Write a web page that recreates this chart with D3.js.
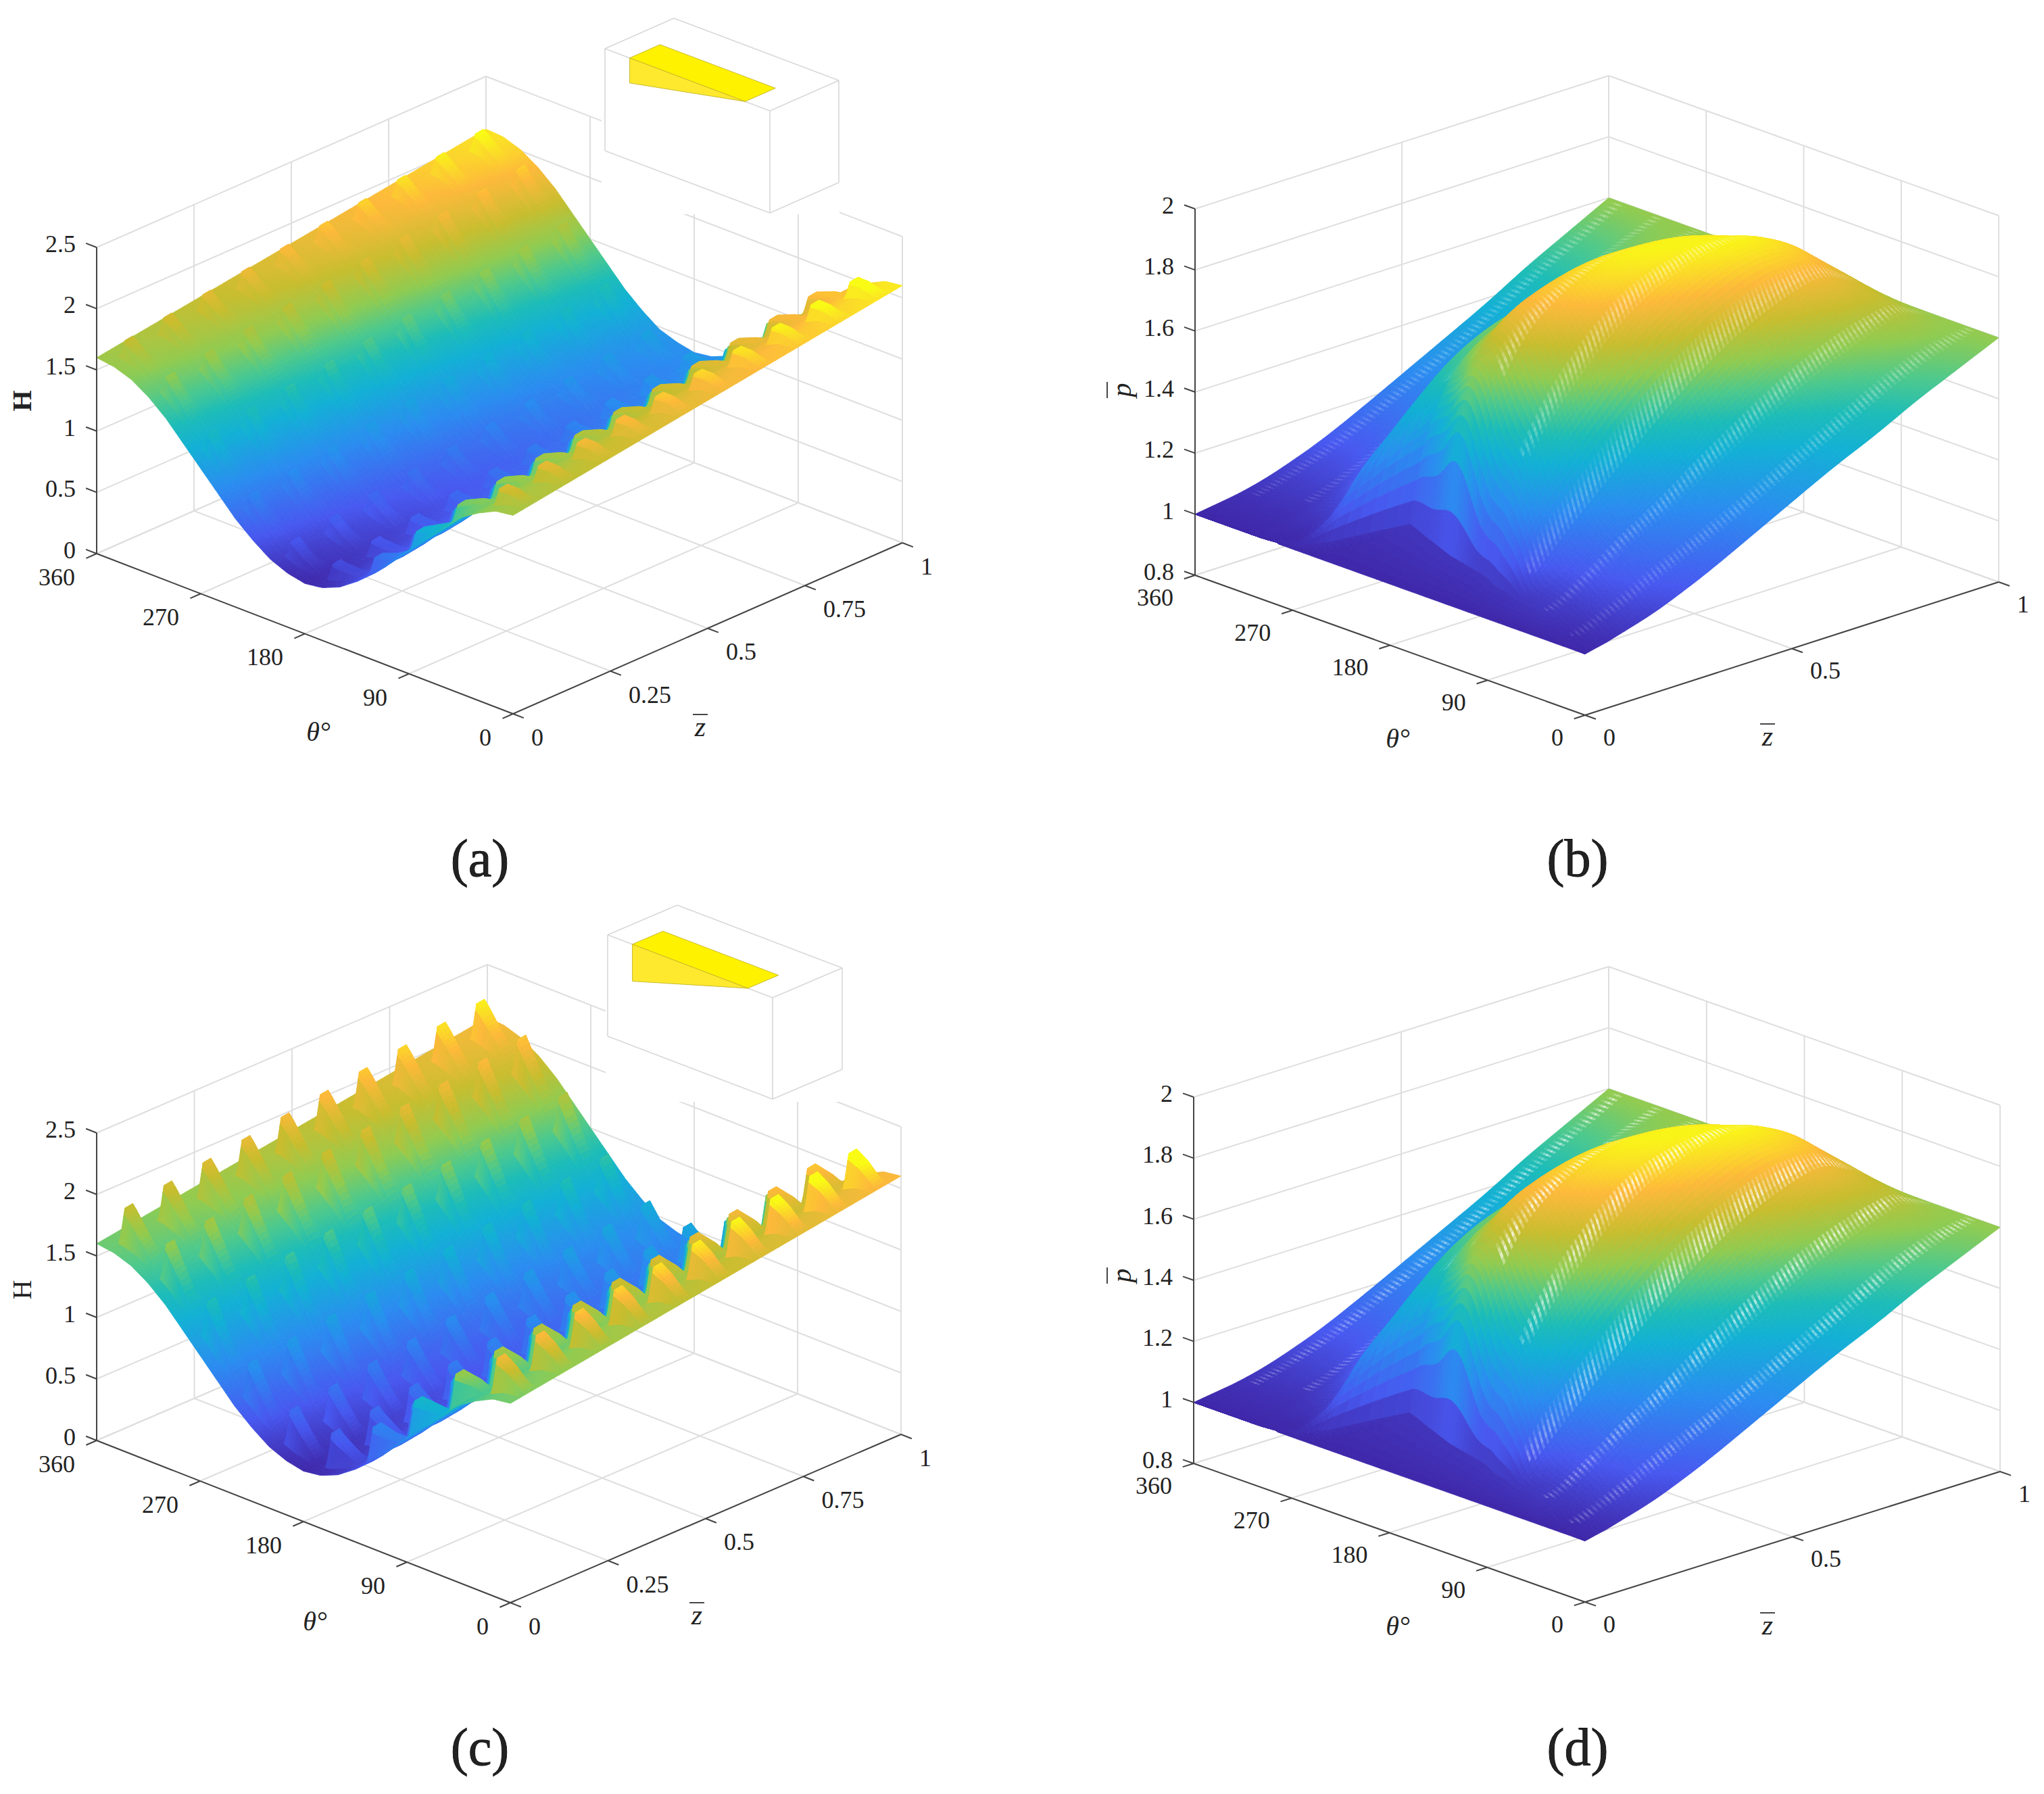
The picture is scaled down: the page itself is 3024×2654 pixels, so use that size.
<!DOCTYPE html>
<html>
<head>
<meta charset="utf-8">
<script src="https://d3js.org/d3.v7.min.js"></script>
<style>
  body { margin: 0; background: #fff; }
  text { font-family: "Liberation Serif", serif; fill: #222; }
</style>
</head>
<body>
<svg id="chart" width="3024" height="2654"></svg>
<script>
// values.
// The H surface is two read edge profiles (z=0, z=1) plus one read peak height per wedge,
// the p surface is one read row per 30 degrees. The mesh below only resamples these
// between the read values so the surface can be drawn smooth.
const thetaTicks = [0, 90, 180, 270, 360];
const zTicksFine = [0, 0.25, 0.5, 0.75, 1];
const zTicksCoarse = [0, 0.5, 1];
const hTicks = [0, 0.5, 1, 1.5, 2, 2.5];
const pTicks = [0.8, 1, 1.2, 1.4, 1.6, 1.8, 2];

// film thickness along the two z edges
const filmTheta = [0, 15, 30, 45, 60, 75, 90, 105, 120, 135, 150, 165, 180, 195, 210, 225, 240, 255, 270, 285, 300, 315, 330, 345, 360];
const filmZ0 = [1.62, 1.6, 1.53, 1.44, 1.3, 1.16, 1.01, 0.86, 0.71, 0.59, 0.49, 0.43, 0.41, 0.44, 0.5, 0.6, 0.72, 0.87, 1.02, 1.17, 1.32, 1.44, 1.53, 1.58, 1.6];
const filmZ1 = [2.1, 2.08, 2.01, 1.92, 1.79, 1.65, 1.5, 1.35, 1.2, 1.08, 0.98, 0.92, 0.9, 0.93, 0.98, 1.08, 1.2, 1.35, 1.5, 1.65, 1.8, 1.92, 2.01, 2.06, 2.07];

// wedge lattice: where the crest of each wedge sits, and how tall it is per theta column
const wedgeTheta = [25, 61, 97, 133, 169, 205, 241, 277, 313, 349];
const wedgeZ = [0.05, 0.15, 0.25, 0.35, 0.45, 0.55, 0.65, 0.75, 0.85, 0.95];
const wedgeHeightA = [0.12, 0.12, 0.12, 0.11, 0.11, 0.11, 0.11, 0.12, 0.12, 0.12];
const wedgeHeightC = [0.27, 0.27, 0.27, 0.26, 0.26, 0.26, 0.26, 0.27, 0.27, 0.27];
// wedges near theta=0 read brighter than their height alone gives
const wedgeGlow = [1.8, 1.5, 1.2, 1, 1, 1, 1, 1, 1, 1];

// pressure: edge of the flat p=1 area on the z=0 side
const flatTheta = [0, 15, 30, 45, 60, 75, 90, 105, 120, 135, 150, 165, 180, 195, 210, 225, 240, 255, 270, 285, 300, 315, 330, 345, 360];
const flatEdge = [0, 0.015, 0.028, 0.045, 0.055, 0.065, 0.07, 0.085, 0.095, 0.115, 0.125, 0.135, 0.145, 0.16, 0.175, 0.19, 0.205, 0.05, 0.01, 0, 0, 0, 0, 0, 0];
// rows of p from that edge (u=0) to z=1 (u=1), one row per 30 degrees
const pressureU = [0, 0.01, 0.025, 0.05, 0.075, 0.1, 0.15, 0.2, 0.3, 0.4, 0.5, 0.6, 0.7, 0.8, 0.9, 1];
const p000 = [1, 1.003, 1.008, 1.015, 1.025, 1.035, 1.055, 1.08, 1.14, 1.21, 1.28, 1.35, 1.41, 1.48, 1.54, 1.6];
const p030 = [1.01, 1.012, 1.02, 1.03, 1.045, 1.06, 1.09, 1.13, 1.19, 1.25, 1.32, 1.39, 1.46, 1.53, 1.58, 1.6];
const p060 = [1.03, 1.035, 1.04, 1.05, 1.07, 1.09, 1.13, 1.18, 1.25, 1.34, 1.42, 1.5, 1.57, 1.62, 1.66, 1.6];
const p090 = [1.03, 1.04, 1.05, 1.08, 1.11, 1.14, 1.2, 1.26, 1.37, 1.48, 1.58, 1.66, 1.72, 1.76, 1.7, 1.6];
const p120 = [1.03, 1.07, 1.14, 1.24, 1.3, 1.35, 1.43, 1.5, 1.63, 1.74, 1.81, 1.86, 1.88, 1.83, 1.72, 1.6];
const p150 = [1.03, 1.08, 1.18, 1.3, 1.39, 1.46, 1.58, 1.67, 1.79, 1.87, 1.89, 1.89, 1.86, 1.8, 1.71, 1.6];
const p180 = [1.03, 1.15, 1.38, 1.5, 1.59, 1.63, 1.71, 1.77, 1.82, 1.85, 1.85, 1.84, 1.81, 1.76, 1.69, 1.6];
const p210 = [1.03, 1.12, 1.27, 1.41, 1.5, 1.56, 1.62, 1.66, 1.71, 1.74, 1.75, 1.75, 1.74, 1.71, 1.66, 1.6];
const p240 = [1.03, 1.1, 1.19, 1.31, 1.38, 1.43, 1.49, 1.53, 1.59, 1.63, 1.65, 1.66, 1.66, 1.65, 1.62, 1.6];
const p270 = [1.01, 1.015, 1.02, 1.04, 1.06, 1.08, 1.13, 1.21, 1.37, 1.47, 1.52, 1.55, 1.57, 1.59, 1.6, 1.6];
const p300 = [1, 1.003, 1.005, 1.01, 1.018, 1.025, 1.045, 1.075, 1.16, 1.25, 1.33, 1.4, 1.46, 1.52, 1.57, 1.6];
const p330 = [1, 1.002, 1.005, 1.01, 1.015, 1.02, 1.035, 1.055, 1.1, 1.165, 1.235, 1.31, 1.39, 1.46, 1.53, 1.6];
const p360 = [1, 1.002, 1.005, 1.01, 1.015, 1.02, 1.035, 1.055, 1.105, 1.17, 1.24, 1.31, 1.38, 1.46, 1.53, 1.6];
const pressureRows = [p000, p030, p060, p090, p120, p150, p180, p210, p240, p270, p300, p330, p360];

// where the white mesh gaps start on each theta line
const gapStartZ = [0.04, 0.07, 0.12, 0.2, 0.24, 0.27, 0.3, 0.22, 0.15, 0.12];

// parula, tuned to the picture
const parulaStops = [0, 0.12, 0.28, 0.42, 0.5, 0.58, 0.66, 0.76, 0.87, 1];
const parulaColors = ["#3e26a8", "#4758f0", "#2a8cf0", "#12b0d5", "#1cbcb8", "#4fc98a", "#90cb50", "#c8bd2e", "#fdb93a", "#f9fb15"];
const parula = d3.scaleLinear().domain(parulaStops).range(parulaColors).clamp(true);

const svg = d3.select("#chart");

function makeProjection(p) {
  const tx = d3.scaleLinear().domain([0, 360]).range([0, p.thetaVec[0]]);
  const ty = d3.scaleLinear().domain([0, 360]).range([0, p.thetaVec[1]]);
  const zx = d3.scaleLinear().domain([0, 1]).range([0, p.zVec[0]]);
  const zy = d3.scaleLinear().domain([0, 1]).range([0, p.zVec[1]]);
  const vy = d3.scaleLinear().domain(p.vDomain).range([0, -p.height]);
  return (t, z, v) => [p.front[0] + tx(t) + zx(z), p.front[1] + ty(t) + zy(z) + vy(v)];
}

function drawFrame(g, p, proj) {
  const [v0, v1] = p.vDomain;
  const grid = g.append("g").attr("stroke", "#dedede").attr("stroke-width", 2).attr("fill", "none");
  const seg = (a, b) => grid.append("line").attr("x1", a[0]).attr("y1", a[1]).attr("x2", b[0]).attr("y2", b[1]);
  p.vTicks.forEach(v => {
    seg(proj(360, 0, v), proj(360, 1, v));
    seg(proj(360, 1, v), proj(0, 1, v));
  });
  p.zTicks.forEach(z => {
    seg(proj(360, z, v0), proj(360, z, v1));
    seg(proj(0, z, v0), proj(360, z, v0));
  });
  thetaTicks.forEach(t => {
    seg(proj(t, 1, v0), proj(t, 1, v1));
    seg(proj(t, 0, v0), proj(t, 1, v0));
  });
  if (p.mask) {
    g.append("rect").attr("x", p.mask[0]).attr("y", p.mask[1]).attr("width", p.mask[2]).attr("height", p.mask[3]).attr("fill", "#fff");
  }
}

function barLabel(g, pos, text, vertical) {
  // italic letter with a thin bar over it, the bar sits on the left when the label is rotated
  const t = g.append("text").attr("x", pos[0]).attr("y", pos[1]).attr("text-anchor", "middle").attr("dy", "0.33em")
    .attr("font-size", 42).attr("font-style", "italic").text(text);
  if (vertical) t.attr("transform", `rotate(-90 ${pos[0]} ${pos[1]})`);
  const bar = vertical
    ? [pos[0] - 21, pos[1] - 12, pos[0] - 21, pos[1] + 12]
    : [pos[0] - 11, pos[1] - 18, pos[0] + 11, pos[1] - 18];
  g.append("line").attr("x1", bar[0]).attr("y1", bar[1]).attr("x2", bar[2]).attr("y2", bar[3]).attr("stroke", "#333").attr("stroke-width", 1.8);
}

function drawAxes(g, p, proj) {
  const [v0, v1] = p.vDomain;
  const ax = g.append("g").attr("stroke", "#444").attr("stroke-width", 2).attr("fill", "none");
  const seg = (a, b) => ax.append("line").attr("x1", a[0]).attr("y1", a[1]).attr("x2", b[0]).attr("y2", b[1]);
  seg(proj(360, 0, v0), proj(360, 0, v1));
  seg(proj(360, 0, v0), proj(0, 0, v0));
  seg(proj(0, 0, v0), proj(0, 1, v0));
  const lab = g.append("g").attr("font-size", 36);
  const fmt = d => String(d);
  const tickTheta = 360 * 17 / Math.hypot(p.thetaVec[0], p.thetaVec[1]);
  const tickZ = 17 / Math.hypot(p.zVec[0], p.zVec[1]);
  p.vTicks.forEach(v => {
    const a = proj(360, 0, v);
    seg(a, proj(360 + tickTheta, 0, v));
    lab.append("text").attr("x", a[0] - 31).attr("y", a[1] - 5).attr("dy", "0.33em").attr("text-anchor", "end").text(fmt(v));
  });
  thetaTicks.forEach(t => {
    const a = proj(t, 0, v0);
    seg(a, proj(t, -tickZ, v0));
    lab.append("text").attr("x", a[0] - 32).attr("y", a[1] + p.labelDy).attr("dy", "0.33em").attr("text-anchor", "end").text(fmt(t));
  });
  p.zTicks.forEach(z => {
    const a = proj(0, z, v0);
    seg(a, proj(-tickTheta, z, v0));
    lab.append("text").attr("x", a[0] + 27).attr("y", a[1] + p.labelDy).attr("dy", "0.33em").attr("text-anchor", "start").text(fmt(z));
  });
  if (p.isFilm) {
    g.append("text").attr("x", p.vLabel[0]).attr("y", p.vLabel[1]).attr("transform", `rotate(-90 ${p.vLabel[0]} ${p.vLabel[1]})`)
      .attr("text-anchor", "middle").attr("dy", "0.33em").attr("font-size", 40).attr("font-weight", p.vWeight).text("H");
  } else {
    barLabel(g, p.vLabel, "p", true);
  }
  g.append("text").attr("x", p.thetaLabel[0]).attr("y", p.thetaLabel[1]).attr("text-anchor", "middle").attr("dy", "0.33em")
    .attr("font-size", 40).attr("font-style", "italic").text("θ°");
  barLabel(g, p.zLabel, "z", false);
  g.append("text").attr("x", p.tag[0]).attr("y", p.tag[1]).attr("text-anchor", "middle").attr("font-size", 78)
    .attr("fill", "#111").attr("stroke", "#111").attr("stroke-width", 0.9).text(p.tagText);
}

// --- surface heights ---
const filmLow = d3.scaleLinear().domain(filmTheta).range(filmZ0);
const filmHigh = d3.scaleLinear().domain(filmTheta).range(filmZ1);
const wedgeLength = 25, wallWidth = 2, wedgeTop = 0.01, wedgeBase = 0.024;

function filmBase(t, z) {
  return filmLow(t) + (filmHigh(t) - filmLow(t)) * z;
}

function wedgeAt(t, z, heights, weights) {
  let h = 0;
  const k = d3.bisectCenter(wedgeTheta, t);
  for (const i of [k - 1, k, k + 1]) {
    if (i < 0 || i >= wedgeTheta.length) continue;
    const d = wedgeTheta[i] - t;
    if (d < -wallWidth || d > wedgeLength) continue;
    const ramp = d >= 0 ? 1 - d / wedgeLength : 1 + d / wallWidth;
    const dz = Math.abs(z - wedgeZ[d3.bisectCenter(wedgeZ, z)]);
    const across = Math.max(0, Math.min(1, (wedgeBase - dz) / (wedgeBase - wedgeTop)));
    h += heights[i] * (weights ? weights[i] : 1) * ramp * across;
  }
  return h;
}

const flatAt = d3.scaleLinear().domain(flatTheta).range(flatEdge);
const rowScale = pressureRows.map(r => d3.scaleLinear().domain(pressureU).range(r).clamp(true));

// a small running mean along u takes the corners out of the read rows
function rowAt(i, u) {
  const h = 0.09 * u * (1 - u), s = rowScale[Math.max(0, Math.min(12, i))];
  return (s(u - 2 * h) + s(u - h) + s(u) + s(u + h) + s(u + 2 * h)) / 5;
}

function pressureAtU(t, u) {
  const x = t / 30, i = Math.min(11, Math.floor(x)), f = x - i;
  const a = rowAt(i - 1, u), b = rowAt(i, u), c = rowAt(i + 1, u), d = rowAt(i + 2, u);
  const s = b + 0.5 * f * (c - a + f * (2 * a - 5 * b + 4 * c - d + f * (3 * (b - c) + d - a)));
  return Math.max(1, s);
}

function pressureAt(t, z) {
  const w = flatAt(t);
  if (z <= w && w > 0) return 1 + (pressureAtU(t, 0) - 1) * z / w;
  return pressureAtU(t, (z - w) / (1 - w));
}

// mesh row s: the first rows cover the flat part, the rest follow its edge up to z=1
const flatShare = 0.06;
function pressureMeshZ(t, s) {
  const w = flatAt(t);
  if (s < flatShare) return w * s / flatShare;
  return w + (1 - w) * (s - flatShare) / (1 - flatShare);
}

function uniqueSorted(list) {
  return Array.from(new Set(list.map(d => +d.toFixed(4)))).sort(d3.ascending);
}

const pathOf = pts => "M" + pts.map(q => q[0].toFixed(1) + "," + q[1].toFixed(1)).join("L") + "Z";

// far cells first, so nearer ones paint over what they hide
function drawSurface(g, proj, thetaMesh, rowMesh, meshZ, heightAt, shadeAt, color, tint) {
  const cells = [];
  const zs = thetaMesh.map(t => rowMesh.map(s => meshZ(t, s)));
  const memo = thetaMesh.map((t, i) => zs[i].map(z => heightAt(t, z)));
  const shade = shadeAt ? thetaMesh.map((t, i) => zs[i].map(z => shadeAt(t, z))) : memo;
  for (let i = thetaMesh.length - 2; i >= 0; i--) {
    for (let j = rowMesh.length - 2; j >= 0; j--) {
      const t0 = thetaMesh[i], t1 = thetaMesh[i + 1];
      const pts = [proj(t0, zs[i][j], memo[i][j]), proj(t1, zs[i + 1][j], memo[i + 1][j]),
        proj(t1, zs[i + 1][j + 1], memo[i + 1][j + 1]), proj(t0, zs[i][j + 1], memo[i][j + 1])];
      const s = (shade[i][j] + shade[i + 1][j] + shade[i + 1][j + 1] + shade[i][j + 1]) / 4;
      const c = color(s);
      cells.push({ d: pathOf(pts), c, w: 0.8 });
      const f = tint ? tint((t0 + t1) / 2, (zs[i][j] + zs[i + 1][j + 1]) / 2, s) : 0;
      if (f > 0) {
        // lower half of the cell goes pale, one hatch stroke per mesh row
        const mid = (a, b) => [(a[0] + b[0]) / 2, (a[1] + b[1]) / 2];
        cells.push({ d: pathOf([pts[0], pts[1], mid(pts[1], pts[2]), mid(pts[0], pts[3])]), c: d3.interpolateRgb(c, "#fff")(f), w: 0 });
      }
    }
  }
  g.append("g").attr("stroke-linejoin", "round")
    .selectAll("path").data(cells).join("path")
    .attr("d", d => d.d).attr("fill", d => d.c).attr("stroke", d => d.c).attr("stroke-width", d => d.w);
}

// white hatch on the lines where the mesh opens up
function gapTint(strength, contrast) {
  return (t, z, v) => {
    const k = d3.bisectCenter(wedgeTheta, t);
    const d = Math.abs(t - wedgeTheta[k]);
    if (d > 5 || z < gapStartZ[k]) return 0;
    const near = Math.abs(z - wedgeZ[d3.bisectCenter(wedgeZ, z)]);
    return strength * (1 - d / 6) * (near < 0.035 ? 1 : contrast) * (0.3 + 0.7 * (v - 1) / 0.9);
  };
}

// --- little wedge sketches ---
function drawInset(g, s) {
  const pt = (a, b, c) => [s.o[0] + a * s.u[0] + b * s.v[0], s.o[1] + a * s.u[1] + b * s.v[1] - c * s.h];
  const box = g.append("g").attr("stroke", "#d8d8d8").attr("stroke-width", 1.6).attr("fill", "none");
  [[[0, 0, 1], [1, 0, 1]], [[1, 0, 1], [1, 1, 1]], [[1, 1, 1], [0, 1, 1]], [[0, 1, 1], [0, 0, 1]],
   [[0, 0, 0], [0, 0, 1]], [[1, 0, 0], [1, 0, 1]], [[0, 1, 0], [0, 1, 1]],
   [[0, 0, 0], [1, 0, 0]], [[0, 0, 0], [0, 1, 0]]].forEach(e => {
    const a = pt(...e[0]), b = pt(...e[1]);
    box.append("line").attr("x1", a[0]).attr("y1", a[1]).attr("x2", b[0]).attr("y2", b[1]);
  });
  const poly = (list, fill) => g.append("polygon").attr("points", list.map(q => pt(...q).join(",")).join(" "))
    .attr("fill", fill).attr("stroke", "#c9ba2a").attr("stroke-width", 1).attr("stroke-linejoin", "round");
  poly([[0.85, 0, 1], [0.85, 0.44, 1], [0.15, 0.44, 1], [0.15, 0, 1]], "#fff200");
  poly([[0.85, 0, 1], [0.15, 0, 1], [0.85, 0, 1 - s.depth]], "#ffe92e");
}

// --- panels ---
const panels = [
  { tagText: "(a)", tag: [710, 1296], isFilm: true, vWeight: 700, front: [759, 1056], thetaVec: [-616, -237], zVec: [576, -253], height: 453,
    vDomain: [0, 2.5], vTicks: hTicks, zTicks: zTicksFine, labelDy: 35, vLabel: [33, 593], thetaLabel: [471, 1083], zLabel: [1036, 1075],
    mask: [890, 0, 352, 317], heights: wedgeHeightA, cMax: 2.15,
    inset: { o: [1139, 315], u: [-244, -92], v: [102, -45], h: 151, depth: 0.245 } },
  { tagText: "(b)", tag: [2334, 1296], isFilm: false, front: [2345, 1058], thetaVec: [-577, -207], zVec: [612, -197], height: 542,
    vDomain: [0.8, 2], vTicks: pTicks, zTicks: zTicksCoarse, labelDy: 33, vLabel: [1659, 577], thetaLabel: [2068, 1093], zLabel: [2615, 1089],
    gap: [0.5, 0.85] },
  { tagText: "(c)", tag: [710, 2611], isFilm: true, vWeight: 400, front: [755, 2371], thetaVec: [-612, -240], zVec: [578, -249], height: 455,
    vDomain: [0, 2.5], vTicks: hTicks, zTicks: zTicksFine, labelDy: 35, vLabel: [33, 1908], thetaLabel: [466, 2399], zLabel: [1031, 2389],
    mask: [896, 1300, 352, 330], heights: wedgeHeightC, cMax: 2.35,
    inset: { o: [1143, 1626], u: [-244, -93], v: [103, -44], h: 150, depth: 0.364 } },
  { tagText: "(d)", tag: [2334, 2611], isFilm: false, front: [2345, 2370], thetaVec: [-579, -205], zVec: [614, -193], height: 542,
    vDomain: [0.8, 2], vTicks: pTicks, zTicks: zTicksCoarse, labelDy: 33, vLabel: [1659, 1887], thetaLabel: [2068, 2406], zLabel: [2615, 2404],
    gap: [0.95, 0.6] }
];

panels.forEach(p => {
  const g = svg.append("g");
  const proj = makeProjection(p);
  drawFrame(g, p, proj);
  if (p.isFilm) {
    const thetaMesh = uniqueSorted(d3.range(0, 360.01, 2).concat(wedgeTheta, wedgeTheta.map(d => d + wallWidth)));
    const zMesh = uniqueSorted(d3.range(0, 1.0001, 0.0125).concat(
      wedgeZ.flatMap(c => [c - wedgeBase, c - wedgeTop, c + wedgeTop, c + wedgeBase])));
    const color = d3.scaleLinear().domain([0.4, p.cMax]).range([0, 1]);
    drawSurface(g, proj, thetaMesh, zMesh, (t, s) => s,
      (t, z) => filmBase(t, z) + wedgeAt(t, z, p.heights),
      (t, z) => filmBase(t, z) + wedgeAt(t, z, p.heights, wedgeGlow),
      v => parula(color(v)));
  } else {
    const thetaMesh = d3.range(0, 360.01, 2.5);
    const rowMesh = d3.range(0, 1.0001, 0.01);
    const color = d3.scaleLinear().domain([1, 1.9]).range([0, 1]);
    drawSurface(g, proj, thetaMesh, rowMesh, pressureMeshZ, pressureAt, null, v => parula(color(v)), gapTint(p.gap[0], p.gap[1]));
  }
  drawAxes(g, p, proj);
  if (p.inset) drawInset(g, p.inset);
});
</script>
</body>
</html>
